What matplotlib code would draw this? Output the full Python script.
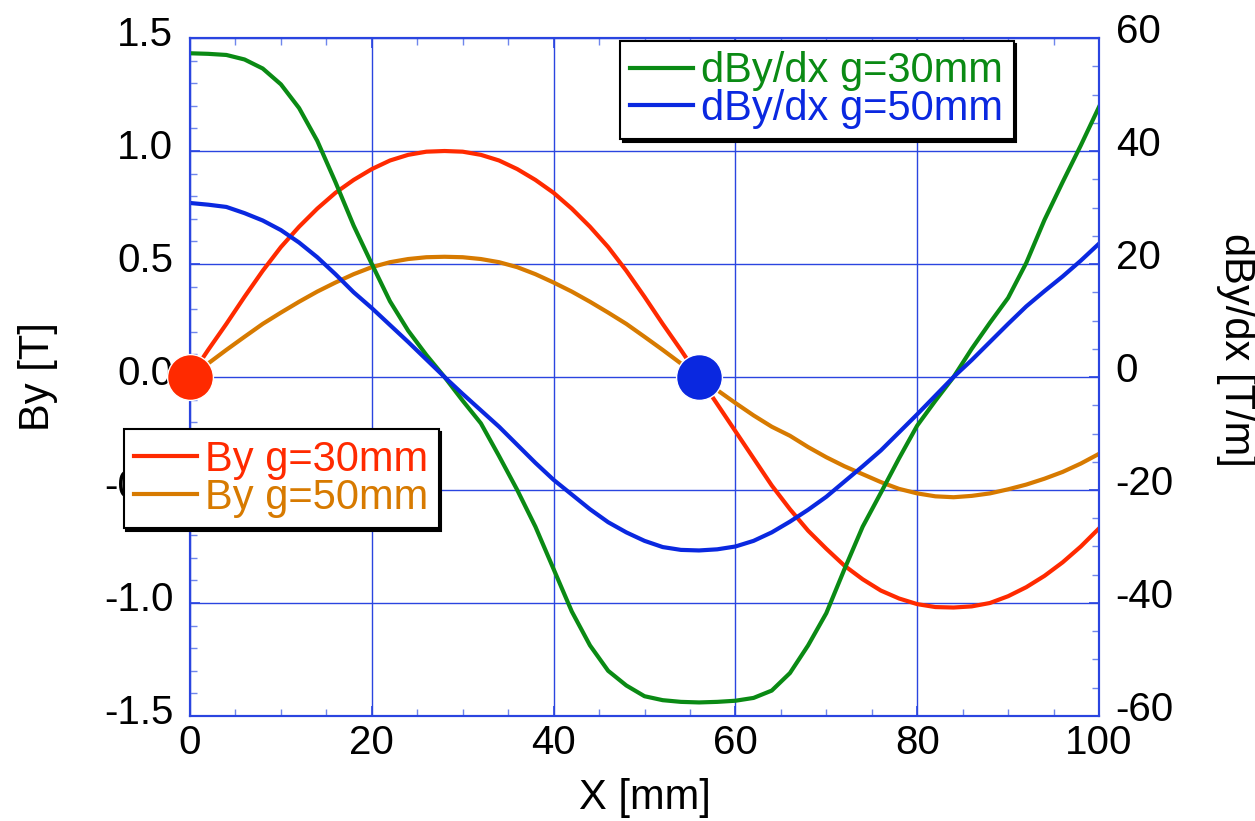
import matplotlib
matplotlib.use('Agg')
import matplotlib.pyplot as plt
import matplotlib.transforms as mtransforms
from matplotlib.ticker import MultipleLocator

plt.rcParams['font.family'] = ['Liberation Sans', 'DejaVu Sans']
plt.rcParams['axes.unicode_minus'] = False

# position along x [mm]
x_mm = [0, 2, 4, 6, 8, 10, 12, 14, 16, 18, 20, 22, 24, 26, 28, 30, 32, 34, 36, 38,
        40, 42, 44, 46, 48, 50, 52, 54, 56, 58, 60, 62, 64, 66, 68, 70, 72, 74, 76, 78,
        80, 82, 84, 86, 88, 90, 92, 94, 96, 98, 100]

# By [T]
by_g30 = [0.000, 0.120, 0.235, 0.355, 0.470, 0.575, 0.665, 0.745, 0.815, 0.872,
          0.920, 0.958, 0.983, 0.997, 1.000, 0.997, 0.983, 0.958, 0.920, 0.872,
          0.815, 0.745, 0.665, 0.575, 0.470, 0.355, 0.235, 0.120, 0.000, -0.120,
          -0.240, -0.360, -0.480, -0.585, -0.680, -0.760, -0.835, -0.895, -0.945, -0.980,
          -1.005, -1.018, -1.020, -1.015, -1.000, -0.970, -0.930, -0.880, -0.820, -0.750,
          -0.670]
by_g50 = [0.000, 0.060, 0.120, 0.178, 0.235, 0.285, 0.333, 0.378, 0.418, 0.455,
          0.486, 0.508, 0.522, 0.530, 0.532, 0.530, 0.522, 0.508, 0.486, 0.455,
          0.418, 0.378, 0.333, 0.285, 0.235, 0.178, 0.120, 0.060, 0.000, -0.058,
          -0.115, -0.170, -0.220, -0.260, -0.310, -0.355, -0.395, -0.430, -0.465, -0.495,
          -0.515, -0.528, -0.532, -0.526, -0.515, -0.497, -0.476, -0.450, -0.420, -0.383,
          -0.340]

# dBy/dx [T/m]
grad_g30 = [57.3, 57.2, 57.0, 56.2, 54.6, 51.8, 47.6, 41.8, 34.5, 26.8,
            20.0, 13.4, 8.2, 3.9, 0.0, -4.2, -8.2, -14.0, -20.0, -26.5,
            -34.0, -41.5, -47.5, -52.0, -54.6, -56.5, -57.2, -57.5, -57.6, -57.5,
            -57.3, -56.8, -55.5, -52.4, -47.5, -41.8, -34.0, -26.5, -20.5, -14.4,
            -8.6, -4.2, 0.0, 5.0, 9.6, 14.0, 20.2, 27.8, 34.5, 41.0,
            47.8]
grad_g50 = [30.8, 30.5, 30.1, 29.0, 27.7, 26.0, 23.8, 21.2, 18.2, 15.0,
            12.2, 9.2, 6.2, 3.1, 0.0, -3.0, -5.9, -8.8, -12.0, -15.2,
            -18.2, -20.8, -23.4, -25.7, -27.5, -29.0, -30.1, -30.6, -30.7, -30.5,
            -30.0, -29.0, -27.5, -25.6, -23.5, -21.2, -18.5, -15.8, -13.0, -9.8,
            -6.6, -3.3, 0.0, 3.0, 6.2, 9.4, 12.5, 15.2, 17.8, 20.6,
            23.6]

# the two dots on the zero line
dot_x = [0, 56]
dot_y = [0, 0]

RED = '#ff2a00'
ORANGE = '#d77a00'
GREEN = '#0a8a14'
BLUE = '#0a28e0'
AXBLUE = '#2a45e0'

fig = plt.figure(figsize=(12.55, 8.21), dpi=100)
ax = fig.add_axes([0.1514, 0.1279, 0.7243, 0.8258])
ax2 = ax.twinx()

l1, = ax.plot(x_mm, by_g30, color=RED, lw=3, label='By g=30mm')
l2, = ax.plot(x_mm, by_g50, color=ORANGE, lw=3, label='By g=50mm')
l3, = ax2.plot(x_mm, grad_g30, color=GREEN, lw=3, label='dBy/dx g=30mm')
l4, = ax2.plot(x_mm, grad_g50, color=BLUE, lw=3, label='dBy/dx g=50mm')

for xx, yy, c in zip(dot_x, dot_y, [RED, BLUE]):
    ax2.plot(xx, yy, 'o', ms=33, color=c, mec='white', mew=1, clip_on=False, zorder=10)

ax.set_xlim(0, 100)
ax.set_ylim(-1.5, 1.5)
ax2.set_ylim(-60, 60)

ax.xaxis.set_major_locator(MultipleLocator(20))
ax.xaxis.set_minor_locator(MultipleLocator(5))
ax.yaxis.set_major_locator(MultipleLocator(0.5))
ax.yaxis.set_minor_locator(MultipleLocator(0.1))
ax2.yaxis.set_major_locator(MultipleLocator(20))
ax2.yaxis.set_minor_locator(MultipleLocator(5))
ax.yaxis.set_major_formatter(plt.FormatStrFormatter('%.1f'))

ax.grid(True, which='major', color=AXBLUE, lw=1)
for a in (ax, ax2):
    for s in a.spines.values():
        s.set_color(AXBLUE)
        s.set_linewidth(1.5)

ax.tick_params(axis='x', which='both', direction='in', top=True, bottom=True,
               color=AXBLUE, labelsize=29, pad=6)
ax.tick_params(axis='y', which='both', direction='in', left=True, right=False,
               color=AXBLUE, labelsize=29, pad=12)
ax2.tick_params(axis='y', which='both', direction='in', right=True,
                color=AXBLUE, labelsize=29, pad=12)
for a in (ax, ax2):
    a.tick_params(which='major', length=7, width=1.2)
    a.tick_params(which='minor', length=5, width=1, color='#6f86ec')

# the y tick labels sit a little above their ticks in the original
fig.canvas.draw()
up_left = mtransforms.ScaledTranslation(0, 5 / 72, fig.dpi_scale_trans)
up_right = mtransforms.ScaledTranslation(0, 7 / 72, fig.dpi_scale_trans)
for lab in ax.get_yticklabels():
    lab.set_transform(lab.get_transform() + up_left)
for lab in ax2.get_yticklabels():
    lab.set_transform(lab.get_transform() + up_right)

ax.set_xlabel('X [mm]', fontsize=30, labelpad=11)
fig.text(38 / 1255, 1 - 377 / 821, 'By [T]', rotation=90, fontsize=30,
         ha='center', va='center')
fig.text(1236 / 1255, 1 - 350 / 821, 'dBy/dx [T/m]', rotation=270, fontsize=30,
         ha='center', va='center')

leg_kw = dict(loc='upper left', borderaxespad=0, fancybox=False, framealpha=1,
              edgecolor='black', labelcolor='linecolor', fontsize=30,
              handlelength=1.5, handletextpad=0.2, borderpad=0.25, labelspacing=-0.05,
              shadow={'facecolor': 'black', 'edgecolor': 'black', 'alpha': 1})
leg1 = ax2.legend(handles=[l3, l4], bbox_to_anchor=(0.473, 0.996), **leg_kw)
leg1.get_frame().set_linewidth(1.5)
ax2.add_artist(leg1)
leg2 = ax2.legend(handles=[l1, l2], bbox_to_anchor=(-0.073, 0.423), **leg_kw)
leg2.get_frame().set_linewidth(1.5)
leg1.set_zorder(20)
leg2.set_zorder(20)

fig.savefig('out.png', dpi=100)
